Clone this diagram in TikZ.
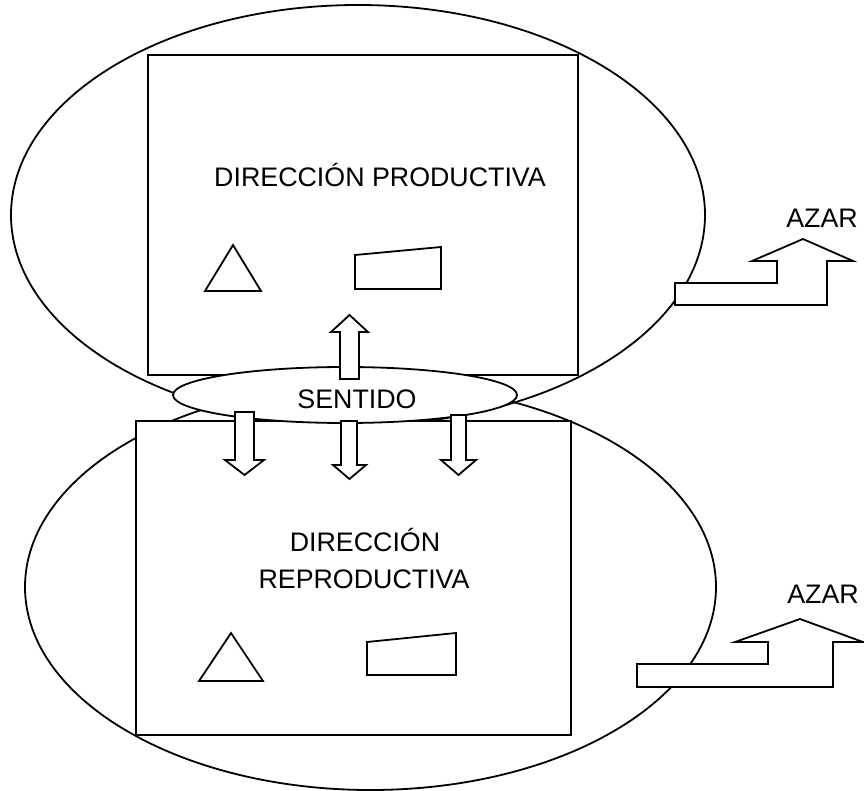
\documentclass[tikz,border=0pt]{standalone}
\usepackage{fontspec}
\setmainfont{Liberation Sans}
\begin{document}
\begin{tikzpicture}[x=1pt,y=-1pt,
  shape line/.style={draw=black,line width=1.8pt,line join=miter},
  white shape/.style={shape line,fill=white},
  lbl/.style={font=\fontsize{26.8}{31}\selectfont,inner sep=0pt,anchor=base}]
\useasboundingbox (0,0) rectangle (864,791);
% big ellipses
\draw[shape line] (358,215) ellipse [x radius=347,y radius=210];
\draw[shape line] (370.5,587) ellipse [x radius=345.5,y radius=203];
% rectangles
\draw[white shape] (148,55) rectangle (578,375);
\draw[white shape] (136,421) rectangle (571,735);
% small shapes top
\draw[shape line] (233,245) -- (261,291) -- (205,291) -- cycle;
\draw[shape line] (355,255) -- (441,247) -- (441,289) -- (355,289) -- cycle;
% small shapes bottom
\draw[shape line] (231,633) -- (263,681) -- (199,681) -- cycle;
\draw[shape line] (367,642) -- (456,633) -- (456,675) -- (367,675) -- cycle;
% sentido ellipse
\draw[white shape] (345,395) ellipse [x radius=172,y radius=28];
% up arrow
\draw[white shape] (340,379) -- (340,332) -- (331,332) -- (349.5,315) -- (368,332) -- (359,332) -- (359,379) -- cycle;
% down arrows
\draw[white shape] (235,412) -- (254,412) -- (254,460) -- (264,460) -- (244.5,475) -- (225,460) -- (235,460) -- cycle;
\draw[white shape] (341,421) -- (357,421) -- (357,465) -- (366,465) -- (349.5,479) -- (333,465) -- (341,465) -- cycle;
\draw[white shape] (451,415) -- (466,415) -- (466,460) -- (476,460) -- (458.5,475) -- (441,460) -- (451,460) -- cycle;
% AZAR arrows
\draw[white shape] (675,283) -- (777,283) -- (777,261) -- (752,261) -- (803,239) -- (853,261) -- (827,261) -- (827,305) -- (675,305) -- cycle;
\draw[white shape] (637,664) -- (768,664) -- (768,642) -- (735,642) -- (800,619) -- (863,642) -- (833,642) -- (833,687) -- (637,687) -- cycle;
% labels
\node[lbl] (dp) at (380,187) {DIRECCIÓN PRODUCTIVA};
\node[lbl] (dr1) at (365,551) {DIRECCIÓN};
\node[lbl] (dr2) at (364,588) {REPRODUCTIVA};
\node[lbl] (sent) at (357,408) {SENTIDO};
\node[lbl] (azar1) at (822,228) {AZAR};
\node[lbl] (azar2) at (823,603) {AZAR};
\end{tikzpicture}
\end{document}
